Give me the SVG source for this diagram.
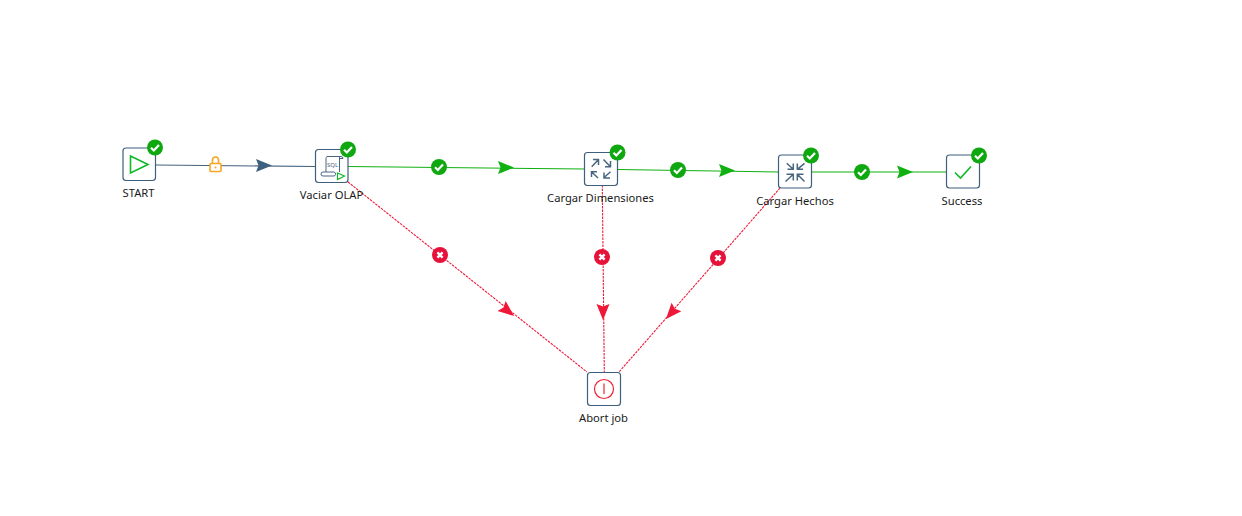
<svg xmlns="http://www.w3.org/2000/svg" xmlns:xlink="http://www.w3.org/1999/xlink" width="1242" height="516" viewBox="0 0 1242 516">
<style>
text{font-family:"Noto Sans","Open Sans","Liberation Sans",sans-serif;font-size:11.2px;fill:#1a1a1a;text-anchor:middle}
.box{fill:#fff;stroke:#3f5f7f;stroke-width:1.2}
.ic{fill:none;stroke:#4a6580;stroke-width:1.5}
.g{stroke:#10b010;stroke-width:1.1;fill:none}
.r{stroke:#f01838;stroke-width:1.1;stroke-dasharray:2.5 1;fill:none}
.bl{stroke:#44627f;stroke-width:1.1;fill:none}
</style>
<defs>
<path id="head" d="M0 0L-16 -6.500L-13.500 0L-16 6.500Z"/>
<g id="ok"><circle r="8" fill="#10a810"/><path d="M-4 0.3L-1.200 3L4 -2.600" fill="none" stroke="#fff" stroke-width="2.200"/></g>
<g id="err"><circle r="8" fill="#e6123a"/><path d="M-2.600 -2.600L2.600 2.600M2.600 -2.600L-2.600 2.600" fill="none" stroke="#fff" stroke-width="2.400"/></g>
</defs>
<rect width="1242" height="516" fill="#fff"/>
<g id="connectors">
<path class="bl" d="M156 165L315 166.500"/>
<use xlink:href="#head" transform="translate(272,165.500)" fill="#3f5f7f"/>
<g transform="translate(215.500,165)"><rect x="-5.500" y="-1.500" width="11" height="8" rx="1" fill="#fff" stroke="#f5a623" stroke-width="1.600"/><path d="M-3 -1.500V-5A3 3 0 0 1 3 -5V-1.500" fill="none" stroke="#f5a623" stroke-width="1.600"/><circle cx="0" cy="2.500" r="1" fill="#f5a623"/></g>
<path class="g" d="M348 166.500L585 169"/>
<use xlink:href="#head" transform="translate(514,167.500)" fill="#10b010"/>
<use xlink:href="#ok" transform="translate(439,167)"/>
<path class="g" d="M618 169.500L779 172"/>
<use xlink:href="#head" transform="translate(735,170.500)" fill="#10b010"/>
<use xlink:href="#ok" transform="translate(678,170)"/>
<path class="g" d="M811 172H947"/>
<use xlink:href="#head" transform="translate(913,172)" fill="#10b010"/>
<use xlink:href="#ok" transform="translate(862,172)"/>
<path class="r" d="M348 182L587 372"/>
<use xlink:href="#head" transform="translate(514,316) rotate(39)" fill="#f01838"/>
<use xlink:href="#err" transform="translate(440,255)"/>
<path class="r" d="M602.300 185L604.300 372"/>
<use xlink:href="#head" transform="translate(603,320) rotate(90)" fill="#f01838"/>
<use xlink:href="#err" transform="translate(602,257)"/>
<path class="r" d="M780 188L619 372"/>
<use xlink:href="#head" transform="translate(666,319) rotate(131)" fill="#f01838"/>
<use xlink:href="#err" transform="translate(718,258)"/>
</g>
<g id="start">
<rect class="box" x="123" y="148" width="32.500" height="32.500" rx="3"/>
<path d="M130.500 156L148 164.500L130.500 173Z" fill="none" stroke="#10b828" stroke-width="1.600"/>
<use xlink:href="#ok" transform="translate(155,147.500)"/>
<text x="138.500" y="197">START</text>
</g>
<g id="vaciar-olap">
<rect class="box" x="315.500" y="149.500" width="32.500" height="33" rx="3"/>
<path d="M327 156.500H341A2 2 0 0 1 343 158.500H339.500M327 156.500A2 2 0 0 0 326 158.500V172H323A2 2 0 0 0 323 176H333A2 2 0 0 0 334 172H326M339.500 157V172" fill="none" stroke="#4a6580" stroke-width="1"/>
<text x="332.500" y="167" style="font-size:6px;fill:#4a6580">SQL</text>
<path d="M337.500 173L344.500 176L337.500 179.500Z" fill="#fff" stroke="#10b828" stroke-width="1.200"/>
<use xlink:href="#ok" transform="translate(348,149.500)"/>
<text x="331.500" y="199">Vaciar OLAP</text>
</g>
<g id="cargar-dimensiones">
<rect class="box" x="584.500" y="152.500" width="33" height="33" rx="3"/>
<path class="ic" d="M591.700 166.700L598.500 159.500M593 159.500H598.500V165M603.500 159.500L610.500 166.700M610.500 161V166.700H605M598 178L591.500 171.700M591.500 177V171.700H597M610.500 171.700L603.500 178M604 172.500V178H610"/>
<use xlink:href="#ok" transform="translate(617.500,152.500)"/>
<text x="600.500" y="202">Cargar Dimensiones</text>
</g>
<g id="cargar-hechos">
<rect class="box" x="778.500" y="155" width="33" height="33" rx="3"/>
<path class="ic" d="M786.700 163.300L793.300 169.300M793.300 163.500V169.300H787.500M804.500 163.300L797.300 169.300M797.300 163.500V169.300H803M785.500 181.500L793.300 174.300M786.500 174.300H793.300V180.500M804.500 181.500L797.300 174.300M803.500 174.300H797.300V180.500"/>
<use xlink:href="#ok" transform="translate(811,155.500)"/>
<text x="795" y="205">Cargar Hechos</text>
</g>
<g id="success">
<rect class="box" x="946.500" y="155" width="33" height="33" rx="3"/>
<path d="M955 172.500L960.500 178L971 166.500" fill="none" stroke="#10b828" stroke-width="1.600"/>
<use xlink:href="#ok" transform="translate(979,155.500)"/>
<text x="962" y="205">Success</text>
</g>
<g id="abort-job">
<rect class="box" x="587.500" y="372.500" width="33" height="33" rx="3"/>
<circle cx="604" cy="389" r="9.500" fill="none" stroke="#ee2233" stroke-width="1.200"/>
<path d="M604 383.500V394" stroke="#ee2233" stroke-width="1.200"/>
<text x="603.500" y="422">Abort job</text>
</g>
</svg>
